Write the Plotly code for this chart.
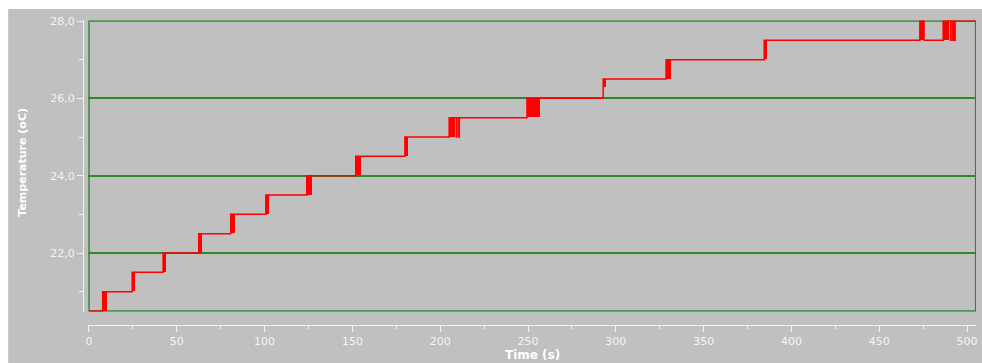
import plotly.graph_objects as go

# ---- step readings: time (s) and temperature (oC), drawn as a held (hv) line
time_s = [0, 7.8, 24.6, 42.2, 62.5, 80.7, 100.7, 124.0, 151.9, 179.9,
          205.1, 209.2, 209.5, 210.6, 210.9, 249.4, 292.8, 328.6, 384.5,
          473.1, 475.5, 486.4, 490.6, 490.9, 491.9, 492.2, 492.9, 493.2, 504.9]
temp_c = [20.5, 21.0, 21.5, 22.0, 22.5, 23.0, 23.5, 24.0, 24.5, 25.0,
          25.5, 25.0, 25.5, 25.0, 25.5, 26.0, 26.5, 27.0, 27.5,
          28.0, 27.5, 28.0, 27.5, 28.0, 27.5, 28.0, 27.5, 28.0, 28.0]

# ---- sensor chatter while switching between two levels (start/end time, low/high level)
chatter_start = [7.8, 24.6, 42.2, 62.5, 80.7, 100.7, 124.0, 151.9, 179.9,
                 205.1, 249.4, 293.2, 328.6, 384.5, 473.1, 486.4]
chatter_end = [10.1, 26.3, 44.1, 64.3, 83.3, 102.6, 127.3, 155.0, 181.8,
               208.5, 256.8, 294.2, 331.3, 386.0, 475.5, 489.8]
chatter_low = [20.5, 21.0, 21.5, 22.0, 22.5, 23.0, 23.5, 24.0, 24.5,
               25.0, 25.5, 26.28, 26.5, 27.0, 27.5, 27.5]
chatter_high = [21.0, 21.5, 22.0, 22.5, 23.0, 23.5, 24.0, 24.5, 25.0,
                25.5, 26.0, 26.5, 27.0, 27.5, 28.0, 28.0]

# ---- axes ticks
x_major = [0, 50, 100, 150, 200, 250, 300, 350, 400, 450, 500]
x_minor = [25, 75, 125, 175, 225, 275, 325, 375, 425, 475]
y_major = [22, 24, 26, 28]
y_major_text = ["22,0", "24,0", "26,0", "28,0"]
y_minor = [21, 23, 25, 27]

BG = "#c0c0c0"
GRID = "#2b8a2b"
AXIS = "#f4f4f4"
RED = "#ff0000"

W, H = 982, 363
ML, MR, MT, MB = 83, 4, 20, 38
PW, PH = W - ML - MR, H - MT - MB


def px_x(px):
    return (px - ML) / PW


def px_y(py):
    return (H - MB - py) / PH


fig = go.Figure()

fig.add_trace(go.Bar(
    x=[(a + b) / 2 for a, b in zip(chatter_start, chatter_end)],
    width=[b - a for a, b in zip(chatter_start, chatter_end)],
    base=chatter_low,
    y=[h - l for l, h in zip(chatter_low, chatter_high)],
    marker=dict(color=RED, line=dict(width=0)),
    hoverinfo="skip",
    showlegend=False,
))

fig.add_trace(go.Scatter(
    x=time_s, y=temp_c,
    mode="lines",
    line=dict(shape="hv", color=RED, width=1.5),
    showlegend=False,
))

# plot frame
fig.add_shape(type="rect", xref="x", yref="y",
              x0=0, x1=504.9, y0=20.5, y1=28.0,
              line=dict(color=GRID, width=1.5), layer="below")

# white page strips at the top and left
fig.add_shape(type="rect", xref="paper", yref="paper",
              x0=px_x(-5), x1=px_x(8), y0=px_y(H + 5), y1=px_y(-5),
              fillcolor="white", line=dict(width=0), layer="above")
fig.add_shape(type="rect", xref="paper", yref="paper",
              x0=px_x(-5), x1=px_x(W + 5), y0=px_y(9), y1=px_y(-5),
              fillcolor="white", line=dict(width=0), layer="above")

tick_font = dict(family="DejaVu Sans", size=11, color=AXIS)

fig.update_layout(
    width=W, height=H, autosize=False,
    margin=dict(l=ML, r=MR, t=MT, b=MB, pad=0),
    paper_bgcolor=BG, plot_bgcolor="rgba(0,0,0,0)",
    showlegend=False,
    bargap=0,
    xaxis=dict(
        domain=[px_x(88.12), 1.0],
        range=[-0.5, 505.1],
        anchor="free", position=0,
        showline=True, linecolor=AXIS, linewidth=1,
        showgrid=False, zeroline=False,
        tickmode="array", tickvals=x_major,
        ticks="outside", ticklen=6, tickwidth=1, tickcolor=AXIS,
        tickfont=tick_font,
        minor=dict(tickmode="array", tickvals=x_minor, ticks="outside",
                   ticklen=3, tickwidth=1, tickcolor=AXIS, showgrid=False),
    ),
    yaxis=dict(
        domain=[px_y(311.77), px_y(20.23)],
        range=[20.48, 28.02],
        anchor="free", position=0,
        showline=True, linecolor=AXIS, linewidth=1,
        showgrid=True, gridcolor=GRID, gridwidth=1.5,
        zeroline=False,
        tickmode="array", tickvals=y_major, ticktext=y_major_text,
        ticks="outside", ticklen=6, tickwidth=1, tickcolor=AXIS,
        tickfont=tick_font,
        minor=dict(tickmode="array", tickvals=y_minor, ticks="outside",
                   ticklen=4, tickwidth=1, tickcolor=AXIS, showgrid=False),
    ),
    annotations=[
        dict(text="<b>Temperature (oC)</b>", xref="paper", yref="paper",
             x=px_x(21.5), y=px_y(162), textangle=-90,
             xanchor="center", yanchor="middle", showarrow=False,
             font=dict(family="DejaVu Sans", size=11, color="white")),
        dict(text="<b>Time (s)</b>", xref="paper", yref="paper",
             x=px_x(533.5), y=px_y(355.3), xanchor="center", yanchor="middle",
             showarrow=False,
             font=dict(family="DejaVu Sans", size=12, color="white")),
    ],
)

fig.write_html("out.html")
